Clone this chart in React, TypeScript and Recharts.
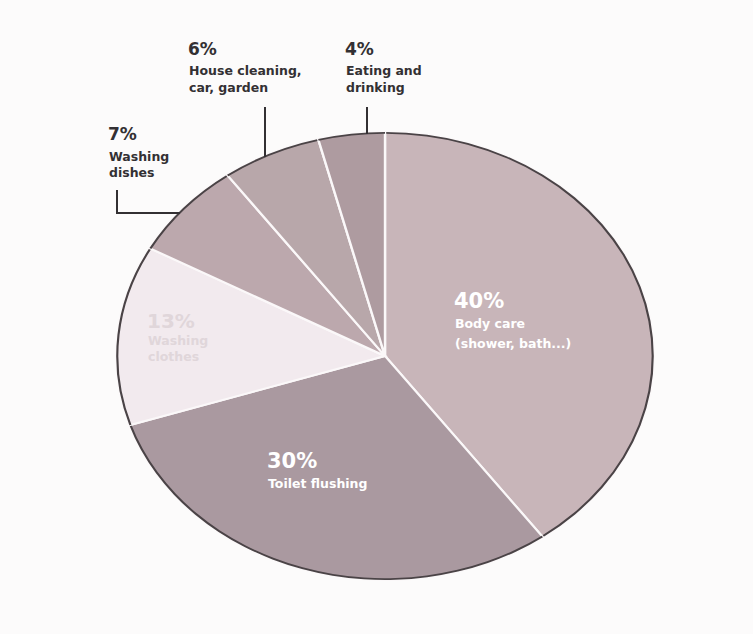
import React from 'react';
import { PieChart, Pie, Cell, Sector } from 'recharts';

const categories = ['Body care (shower, bath...)', 'Toilet flushing', 'Washing clothes', 'Washing dishes', 'House cleaning, car, garden', 'Eating and drinking'];
const shares = [40, 30, 13, 7, 6, 4];
const labelLines = [
  ['Body care', '(shower, bath...)'],
  ['Toilet flushing'],
  ['Washing', 'clothes'],
  ['Washing', 'dishes'],
  ['House cleaning,', 'car, garden'],
  ['Eating and', 'drinking'],
];
const colors = ['#c8b5b9', '#aa99a0', '#f2eaee', '#bca8ad', '#b8a7aa', '#ae9ba0'];

const data = categories.map((name, i) => ({ name, value: shares[i] }));

const SX = 1.2;
const FONT = 'DejaVu Sans, Verdana, sans-serif';

// text layout offsets relative to pie centre (style only)
const labelStyle = [
  { dx: 69, dy: -48, inside: true, gap: 20, line: 20, pct: 21 },
  { dx: -118, dy: 112, inside: true, gap: 20, line: 18, pct: 21 },
  { dx: -238, dy: -28, inside: true, gap: 17, line: 16, pct: 20 },
  { dx: -277, dy: -216, inside: false, gap: 21, line: 16, pct: 17 },
  { dx: -197, dy: -301, inside: false, gap: 20, line: 17, pct: 17 },
  { dx: -40, dy: -301, inside: false, gap: 20, line: 17, pct: 17 },
];
const leaders: Record<number, number[][]> = {
  3: [[-268, -166], [-268, -143], [-205, -143]],
  4: [[-120, -249], [-120, -199]],
  5: [[-18, -249], [-18, -222]],
};

function EllipseSector(props: any) {
  const { cx, cy, innerRadius, outerRadius, startAngle, endAngle, fill } = props;
  return (
    <g transform={`translate(${cx} ${cy}) scale(${SX} 1) translate(${-cx} ${-cy})`}>
      <Sector cx={cx} cy={cy} innerRadius={innerRadius} outerRadius={outerRadius}
        startAngle={startAngle} endAngle={endAngle} fill={fill} stroke="#fbf8f9" strokeWidth={2} />
      <Sector cx={cx} cy={cy} innerRadius={outerRadius - 1.8} outerRadius={outerRadius}
        startAngle={startAngle} endAngle={endAngle} fill="#4a4346" stroke="none" />
    </g>
  );
}

function renderLabel(props: any) {
  const { cx, cy, index } = props;
  const st = labelStyle[index];
  const x = cx + st.dx;
  const y = cy + st.dy;
  const ghost = index === 2;
  const textFill = ghost ? '#e0d6da' : st.inside ? '#ffffff' : '#333033';
  const lines = labelLines[index];
  const lead = leaders[index];
  return (
    <g key={`lbl-${index}`}>
      {lead && (
        <polyline points={lead.map(p => `${cx + p[0]},${cy + p[1]}`).join(' ')}
          fill="none" stroke="#333033" strokeWidth={2} />
      )}
      <text x={x} y={y} fill={textFill} fontFamily={FONT}
        fontWeight="bold" fontSize={st.pct}>
        {shares[index]}%
      </text>
      {lines.map((ln, k) => (
        <text key={k} x={x + 1} y={y + st.gap + k * st.line} fill={textFill}
          fontFamily={FONT} fontWeight="bold" fontSize={12.5}>
          {ln}
        </text>
      ))}
    </g>
  );
}

export default function App() {
  return (
    <div style={{ position: 'absolute', left: 0, top: 0, width: 753, height: 634, background: '#fcfbfb' }}>
      <PieChart width={753} height={634} margin={{ top: 0, right: 0, bottom: 0, left: 0 }}>
        <Pie
          data={data}
          dataKey="value"
          nameKey="name"
          cx={385}
          cy={356}
          innerRadius={0}
          outerRadius={224}
          startAngle={90}
          endAngle={-270}
          shape={EllipseSector}
          label={renderLabel}
          labelLine={false}
          isAnimationActive={false}
          stroke="none"
        >
          {data.map((d, i) => (
            <Cell key={d.name} fill={colors[i]} />
          ))}
        </Pie>
      </PieChart>
    </div>
  );
}
